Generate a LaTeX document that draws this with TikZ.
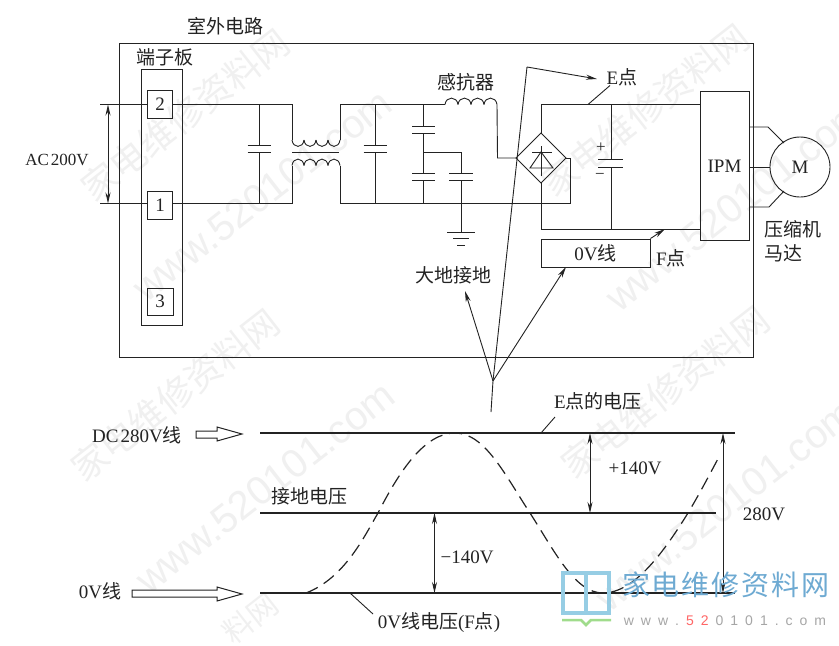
\documentclass[tikz,border=0pt]{standalone}
\usepackage{fontspec}
\setmainfont{Liberation Serif}
\setsansfont{Liberation Sans}
\newfontfamily\cjfont{Noto Sans CJK SC}
\newcommand{\cj}[1]{{\cjfont #1}}
\usetikzlibrary{arrows.meta}
\definecolor{logoblue}{RGB}{150,205,228}
\definecolor{logotext}{RGB}{110,170,210}
\definecolor{logogreen}{RGB}{160,220,140}
\definecolor{inkc}{RGB}{35,35,35}
\tikzset{
  wire/.style={draw=inkc,line width=0.9pt},
  thickline/.style={draw=inkc,line width=2pt},
  lab/.style={inner sep=0pt,text=inkc,font=\fontsize{19}{21}\selectfont},
  boxn/.style={draw=inkc,line width=0.9pt,inner sep=0pt,text=inkc,font=\fontsize{19}{21}\selectfont},
  tip/.style={wire,-{Stealth[length=11pt,width=5pt]}},
  dtip/.style={wire,{Stealth[length=11pt,width=5pt]}-{Stealth[length=11pt,width=5pt]}},
  hollow/.style={draw=inkc,line width=1pt,fill=white,line join=miter},
  wmk/.style={inner sep=0pt,text=black!6,rotate=38},
  curve/.style={draw=inkc,line width=1.2pt,dash pattern=on 13pt off 7pt},
}
\begin{document}
\begin{tikzpicture}[x=1pt,y=-1pt]
\useasboundingbox (0,0) rectangle (839,646);
\fill[white] (0,0) rectangle (839,646);
% faint watermark
\foreach \n/\px/\py in {w1/185/115,w2/645/110,w3/175/395,w4/665/392}{
  \node[wmk,font=\cjfont\fontsize{36}{38}\selectfont] (\n) at (\px,\py) {家电维修资料网};
}
\node[wmk,font=\cjfont\fontsize{30}{32}\selectfont] (w5) at (250,618) {料网};
\foreach \n/\px/\py in {u1/262/195,u2/735/205,u3/265/487,u4/725/505}{
  \node[wmk,font=\sffamily\fontsize{40}{42}\selectfont] (\n) at (\px,\py) {www.520101.com};
}
% frame and terminal block
\node[boxn,minimum width=634pt,minimum height=314pt] (frame) at (436,200) {};
\node[boxn,minimum width=41pt,minimum height=256pt] (board) at (161.5,197) {};
\node[boxn,minimum width=25pt,minimum height=28pt] (t2) at (160,104.5) {2};
\node[boxn,minimum width=25pt,minimum height=28pt] (t1) at (160,205) {1};
\node[boxn,minimum width=26pt,minimum height=27pt] (t3) at (160,301.5) {3};
\node[lab] (title) at (225,26) {\cj{室外电路}};
\node[lab] (tbl) at (165,57) {\cj{端子板}};
\node[lab,font=\fontsize{17}{19}\selectfont] (ac) at (57,160) {AC\hspace{2pt}200V};
\node[lab] (lind) at (466,82) {\cj{感抗器}};
\node[lab] (epoint) at (622,77) {E\cj{点}};
\node[lab] (fpoint) at (671,258) {F\cj{点}};
\node[lab] (earth) at (453,275) {\cj{大地接地}};
\node[lab,anchor=west] (comp1) at (764,229) {\cj{压缩机}};
\node[lab,anchor=west] (comp2) at (764,253) {\cj{马达}};
% mains
\coordinate (ltop) at (100,104.5);
\coordinate (lbot) at (100,203.5);
\draw[wire] (ltop) -- (t2.west);
\draw[wire] (lbot) -- (t1.west |- lbot);
\draw[dtip] (108,104.5) -- (108,203.5);
% first cap
\coordinate (tl) at (292,104.5);
\coordinate (bl) at (292,203.5);
\draw[wire] (t2.east) -- (tl) -- (292,140);
\draw[wire] (t1.east |- bl) -- (bl) -- (292,165.5);
\foreach \cx in {259,375}{
  \draw[wire] (\cx,104.5) -- (\cx,145) (\cx-11.5,145) -- (\cx+11.5,145);
  \draw[wire] (\cx,203.5) -- (\cx,152) (\cx-11.5,152) -- (\cx+11.5,152);
}
% common mode choke
\foreach \i in {0,1,2,3}{
  \draw[wire] (292+12*\i,140) .. controls (293+12*\i,148.5) and (303+12*\i,148.5) .. (304+12*\i,140);
  \draw[wire] (292+12*\i,165.5) .. controls (293+12*\i,157) and (303+12*\i,157) .. (304+12*\i,165.5);
}
\draw[wire] (292,152.7) -- (339,152.7);
\draw[wire] (340,140) -- (340,104.5) -- (445,104.5);
\draw[wire] (340,165.5) -- (340,203.5) -- (570,203.5) -- (570,158);
% second stage caps
\draw[wire] (423.5,104.5) -- (423.5,126) (412,126) -- (435,126);
\draw[wire] (412,133) -- (435,133) (423.5,133) -- (423.5,173) (412,173) -- (435,173);
\draw[wire] (412,180) -- (435,180) (423.5,180) -- (423.5,203.5);
\draw[wire] (423.5,152) -- (461,152) -- (461,173) (449,173) -- (473,173);
\draw[wire] (449,180) -- (473,180) (461,180) -- (461,232);
\draw[wire] (447,232) -- (475,232) (453,238.5) -- (469,238.5) (457,245) -- (465,245);
% series inductor
\foreach \i in {0,1,2,3}{
  \draw[wire] (445+13*\i,104.5) .. controls (446+13*\i,96) and (457+13*\i,96) .. (458+13*\i,104.5);
}
\draw[wire] (497,104.5) -- (497.5,158) -- (517,158);
% bridge
\draw[wire] (541,133) -- (566,158) -- (541,183) -- (516,158) -- cycle;
\draw[wire] (566,158) -- (570,158);
\draw[wire] (532,152) -- (552,152) (541,146) -- (541,176);
\draw[wire] (541,152) -- (530,168) -- (553,168) -- cycle;
% DC bus
\coordinate (ipmt) at (700,104.5);
\coordinate (ipmb) at (700,229);
\draw[wire] (541,133) -- (541,104.5) -- (ipmt);
\draw[wire] (541,183) -- (541,229) -- (ipmb);
\draw[wire] (611,104.5) -- (611,159.5) (598,159.5) -- (623,159.5);
\draw[wire] (598,167) -- (623,167) (611,167) -- (611,229);
\node[lab,font=\fontsize{17}{18}\selectfont] (plus) at (601,148) {+};
\node[lab,font=\fontsize{17}{18}\selectfont] (minus) at (600,176) {−};
% IPM and motor
\node[boxn,minimum width=49pt,minimum height=149pt] (ipm) at (724.5,166) {IPM};
\node[boxn,circle,minimum size=60pt] (motor) at (800,167) {M};
\draw[wire] (ipm.east |- 0,127) -- (768,127) -- (784,143);
\draw[wire] (ipm.east |- 0,167) -- (motor.west);
\draw[wire] (ipm.east |- 0,207) -- (769,207) -- (784,191);
% 0V box and leaders
\node[boxn,minimum width=109pt,minimum height=28pt] (zero) at (595.5,253) {0V\cj{线}};
\draw[tip] (zero.north east) -- (665,229);
\draw[wire] (610,85.5) -- (588,104.5);
\coordinate (fan) at (493,381);
\coordinate (stem) at (491,412);
\coordinate (bend) at (527,67);
\draw[wire] (stem) -- (fan);
\draw[tip] (fan) -- (465,291);
\draw[tip] (fan) -- (566,267);
\draw[wire] (fan) -- (bend);
\draw[tip] (bend) -- (597,79);
% waveform lines
\draw[thickline] (260,433) -- (735,433);
\draw[thickline] (260,513) -- (716,513);
\draw[thickline] (260,593) -- (735,593);
\draw[curve] (306,593) .. controls (345,578) and (365,535) .. (378,513)
  .. controls (400,470) and (425,433) .. (455,433)
  .. controls (485,433) and (505,475) .. (530,513)
  .. controls (555,552) and (575,593) .. (603,593)
  .. controls (635,593) and (665,550) .. (688,513)
  .. controls (700,493) and (712,470) .. (720,455);
\draw[dtip] (590,433) -- (590,513);
\draw[dtip] (434.5,513) -- (434.5,593);
\draw[dtip] (723,433) -- (723,593);
\node[lab] (p140) at (635,468) {+140V};
\node[lab] (m140) at (467,557) {−140V};
\node[lab] (v280) at (764,514) {280V};
\node[lab] (evolt) at (598,401) {E\cj{点的电压}};
\node[lab] (gvolt) at (309,496) {\cj{接地电压}};
\node[lab] (fvolt) at (439,623) {0V\cj{线电压}(F\cj{点})};
\node[lab] (dc) at (137,435) {DC\hspace{2pt}280V\cj{线}};
\node[lab] (zv) at (100,591) {0V\cj{线}};
\draw[wire] (555,417) -- (541,433);
\draw[wire] (350,593) -- (373,614);
% hollow arrows
\draw[hollow] (196,431) -- (217,431) -- (217,427) -- (242,434) -- (217,441) -- (217,438) -- (196,438) -- cycle;
\draw[hollow] (132,590) -- (217,590) -- (217,587) -- (242,594) -- (217,601) -- (217,597) -- (132,597) -- cycle;
% site logo
\draw[logoblue,line width=3.5pt] (563,573) rectangle (586,613);
\draw[logoblue,line width=3.5pt] (586,573) rectangle (609,613);
\draw[logogreen,line width=2.5pt] (562,620) -- (581,620) -- (586,625) -- (591,620) -- (611,620);
\node[inner sep=0pt,text=logotext,font=\cjfont\fontsize{28}{30}\selectfont] (logo) at (726,585) {家\hspace{2pt}电\hspace{2pt}维\hspace{2pt}修\hspace{2pt}资\hspace{2pt}料\hspace{2pt}网};
\node[inner sep=0pt,text=black!35,font=\sffamily\fontsize{14}{15}\selectfont] (site) at (725,621) {w\hspace{7pt}w\hspace{7pt}w\hspace{7pt}.\hspace{7pt}\textcolor{red!60}{5}\hspace{7pt}\textcolor{red!60}{2}\hspace{7pt}0\hspace{7pt}1\hspace{7pt}0\hspace{7pt}1\hspace{7pt}.\hspace{7pt}c\hspace{7pt}o\hspace{7pt}m};
\end{tikzpicture}
\end{document}
